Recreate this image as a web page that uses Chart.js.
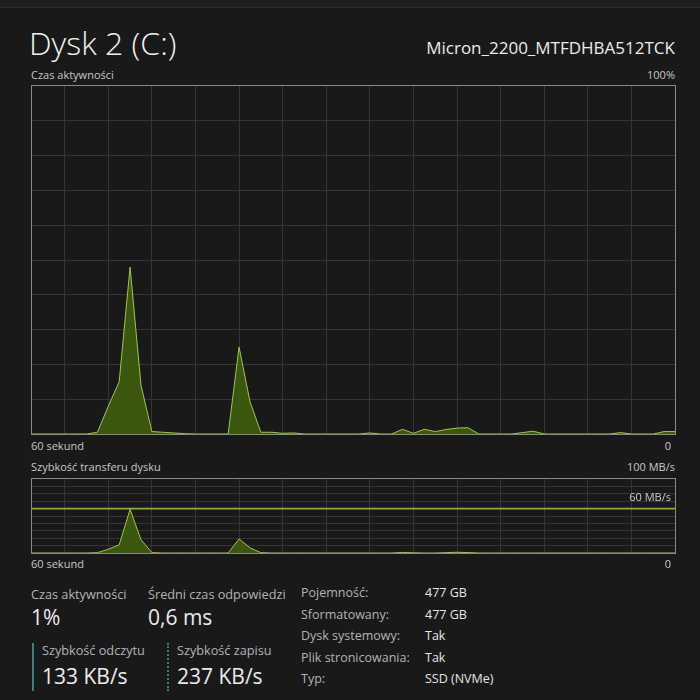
<!DOCTYPE html>
<html><head><meta charset="utf-8">
<script src="https://cdn.jsdelivr.net/npm/chart.js@4/dist/chart.umd.min.js"></script>
<style>
html,body{margin:0;padding:0;background:#191919;width:700px;height:700px;overflow:hidden;font-family:"Open Sans","Noto Sans",sans-serif;color:#e8e8e8}
.t{position:absolute;white-space:nowrap;line-height:1}
.topbar{position:absolute;left:0;top:0;width:700px;height:7px;background:#1f1f1f;border-bottom:1px solid #2d2d2d}
.box{position:absolute;border:1px solid #8a8a8a;box-sizing:content-box}
.box canvas{display:block}
.small{font-size:11px;color:#c8c8c8}
.lbl{font-size:12.7px;color:#b4b4b4}
.big{font-size:21px;color:#ececec;font-weight:400}
.rl{font-size:12.5px;color:#b4b4b4}
.rv{font-size:12.5px;color:#e6e6e6}
</style></head>
<body>
<div class="topbar"></div>
<div class="t" style="left:29px;top:27px;font-size:32px;font-weight:300;color:#f0f0f0">Dysk 2 (C:)</div>
<div class="t" id="model" style="right:25px;top:39px;font-size:17px;color:#ececec">Micron_2200_MTFDHBA512TCK</div>

<div class="t small" style="left:31px;top:69px">Czas aktywności</div>
<div class="t small" style="right:25px;top:69px">100%</div>
<div class="box" style="left:31px;top:85px;width:643px;height:348px"><canvas id="c1" width="643" height="348"></canvas></div>
<div class="t small" style="left:31px;top:440px">60 sekund</div>
<div class="t small" style="right:29px;top:440px">0</div>

<div class="t small" style="left:31px;top:461px">Szybkość transferu dysku</div>
<div class="t small" style="right:25px;top:461px">100 MB/s</div>
<div class="box" style="left:31px;top:478px;width:643px;height:74px"><canvas id="c2" width="643" height="74"></canvas></div>
<div class="t small" style="right:29px;top:491px">60 MB/s</div>
<div class="t small" style="left:31px;top:558px">60 sekund</div>
<div class="t small" style="right:29px;top:558px">0</div>

<div class="t lbl" style="left:31px;top:588px">Czas aktywności</div>
<div class="t big" style="left:31px;top:607px">1%</div>
<div class="t lbl" style="left:148px;top:588px">Średni czas odpowiedzi</div>
<div class="t big" style="left:148px;top:607px">0,6 ms</div>

<div style="position:absolute;left:32px;top:643px;width:2px;height:48px;background:#3f7f74"></div>
<div class="t lbl" style="left:42px;top:644px">Szybkość odczytu</div>
<div class="t big" style="left:42px;top:666px;font-size:21px">133 KB/s</div>
<div style="position:absolute;left:167px;top:643px;width:0;height:48px;border-left:2px dotted #3f7f74"></div>
<div class="t lbl" style="left:177px;top:644px">Szybkość zapisu</div>
<div class="t big" style="left:177px;top:666px;font-size:21px">237 KB/s</div>

<div class="t rl" style="left:301px;top:587px">Pojemność:</div>
<div class="t rl" style="left:301px;top:609px">Sformatowany:</div>
<div class="t rl" style="left:301px;top:630px">Dysk systemowy:</div>
<div class="t rl" style="left:301px;top:652px">Plik stronicowania:</div>
<div class="t rl" style="left:301px;top:673px">Typ:</div>
<div class="t rv" style="left:425px;top:587px">477 GB</div>
<div class="t rv" style="left:425px;top:609px">477 GB</div>
<div class="t rv" style="left:425px;top:630px">Tak</div>
<div class="t rv" style="left:425px;top:652px">Tak</div>
<div class="t rv" style="left:425px;top:673px">SSD (NVMe)</div>

<script>
// seconds ago (60 -> 1), one sample per second
const seconds = [60,59,58,57,56,55,54,53,52,51,50,49,48,47,46,45,44,43,42,41,40,39,38,37,36,35,34,33,32,31,30,29,28,27,26,25,24,23,22,21,20,19,18,17,16,15,14,13,12,11,10,9,8,7,6,5,4,3,2,1];
// active time, %
const activeTime = [0,0,0,0,0,0,0.5,8,15,48,14,0.7,0.5,0.3,0.1,0,0,0,0,25,9.3,0.5,0.5,0.2,0.3,0,0,0,0,0,0,0.3,0,0,1.35,0.2,1.35,0.7,1.3,1.7,1.8,0,0,0,0,0.4,0.8,0,0,0,0,0,0,0,0.4,0,0,0,0.7,0.7];
// disk transfer rate, MB/s
const transferRate = [0,0,0,0,0,0,0.5,5,11,59,18,0.5,0,0,0,0,0,0,0,19,7,0.5,0,0,0,0,0,0,0,0,0,0,0,0,0.8,0.3,0,0,0.5,1,0.6,0,0,0,0,0,0,0,0,0,0,0,0,0,0,0,0,0,0,0];
const activeMax = 100;      // %
const transferMax = 100;    // MB/s
const transferPeakLine = 60; // MB/s

const LINE = '#a3c455';
const FILL = 'rgba(62,92,14,0.92)';
const GRID = '#353535';

function opts(max, skipValue, plugins) {
  return {
    type: 'line',
    data: { labels: seconds, datasets: [] },
    options: {
      responsive: false, animation: false, events: [],
      layout: { padding: 0 },
      plugins: { legend: { display: false }, tooltip: { enabled: false } },
      elements: { point: { radius: 0 }, line: { tension: 0, borderWidth: 1 } },
      scales: {
        x: { type: 'category', offset: false, ticks: { display: false }, border: { display: false },
             grid: { drawTicks: false, lineWidth: 1, color: c => (c.index % 4 === 3 && c.index !== 59) ? GRID : 'rgba(0,0,0,0)' } },
        y: { min: 0, max: max, ticks: { display: false, stepSize: max / 10 }, border: { display: false },
             grid: { drawTicks: false, lineWidth: 1,
                     color: c => (c.index > 0 && c.index < 10 && c.tick.value !== skipValue) ? GRID : 'rgba(0,0,0,0)' } }
      }
    },
    plugins: plugins || []
  };
}

const cfg1 = opts(activeMax, null);
cfg1.data.datasets.push({ data: activeTime, borderColor: LINE, backgroundColor: FILL, fill: 'origin' });
new Chart(document.getElementById('c1'), cfg1);

const refLine = {
  id: 'refLine',
  afterDatasetsDraw(chart) {
    const y = chart.scales.y.getPixelForValue(transferPeakLine);
    const ctx = chart.ctx; ctx.save();
    ctx.strokeStyle = '#8fb03a'; ctx.lineWidth = 1.6;
    ctx.beginPath(); ctx.moveTo(chart.chartArea.left, y); ctx.lineTo(chart.chartArea.right, y); ctx.stroke();
    ctx.restore();
  }
};
const cfg2 = opts(transferMax, transferPeakLine, [refLine]);
cfg2.data.datasets.push({ data: transferRate, borderColor: LINE, backgroundColor: FILL, fill: 'origin' });
new Chart(document.getElementById('c2'), cfg2);
</script>
</body></html>
